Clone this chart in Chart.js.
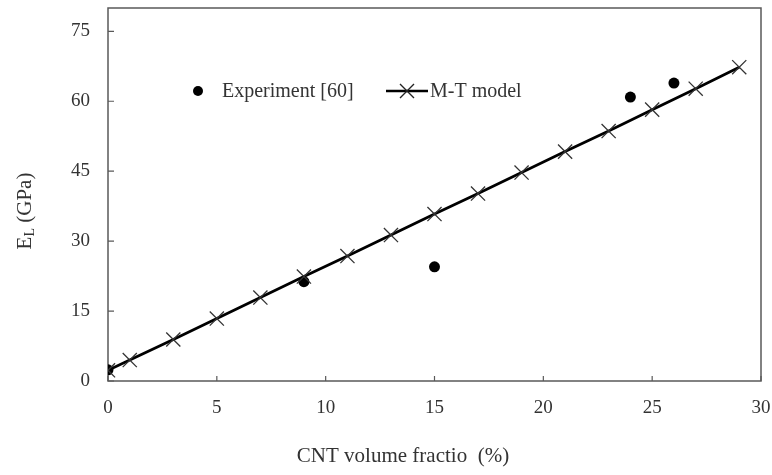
<!DOCTYPE html>
<html>
<head>
<meta charset="utf-8">
<script src="https://cdn.jsdelivr.net/npm/chart.js@4"></script>
<style>
  html, body { margin: 0; padding: 0; background: #fff; }
  #wrap { width: 772px; height: 475px; }
</style>
</head>
<body>
<div id="wrap"><canvas id="modulusChart" width="772" height="475"></canvas></div>
<script>
// Longitudinal modulus vs CNT volume fraction
const expFraction = [0, 9, 15, 24, 26];
const expModulus = [2.4, 21.3, 24.5, 60.9, 63.9];
const mtFraction = [0, 1, 3, 5, 7, 9, 11, 13, 15, 17, 19, 21, 23, 25, 27, 29];
const mtModulus = [2.3, 4.5, 8.9, 13.4, 17.9, 22.4, 26.8, 31.3, 35.8, 40.2, 44.7, 49.2, 53.6, 58.2, 62.7, 67.3];
const xTicks = [0, 5, 10, 15, 20, 25, 30];
const yTicks = [0, 15, 30, 45, 60, 75];

const FONT = '"Liberation Serif", "Times New Roman", serif';
const FRAME = '#595959';
const TEXT = '#333333';

// frame, inward tick marks, axis titles and the legend
const decorations = {
  id: 'decorations',
  beforeDatasetsDraw(chart) {
    const { ctx, chartArea: a, scales } = chart;
    ctx.save();
    ctx.strokeStyle = FRAME;
    ctx.lineWidth = 1.5;
    ctx.strokeRect(a.left, a.top, a.right - a.left, a.bottom - a.top);
    ctx.lineWidth = 1.2;
    ctx.beginPath();
    scales.x.ticks.forEach(t => {
      const px = scales.x.getPixelForValue(t.value);
      ctx.moveTo(px, a.bottom);
      ctx.lineTo(px, a.bottom - 5);
    });
    scales.y.ticks.forEach(t => {
      const py = scales.y.getPixelForValue(t.value);
      ctx.moveTo(a.left, py);
      ctx.lineTo(a.left + 6, py);
    });
    ctx.stroke();
    ctx.restore();
  },
  afterDraw(chart) {
    const { ctx } = chart;
    ctx.save();
    ctx.fillStyle = TEXT;
    ctx.textBaseline = 'middle';

    // x title
    ctx.font = '21px ' + FONT;
    ctx.textAlign = 'center';
    ctx.fillText('CNT volume fractio  (%)', 403, 456);

    // y title with subscript
    ctx.translate(25, 211);
    ctx.rotate(-Math.PI / 2);
    ctx.textAlign = 'left';
    ctx.font = '21px ' + FONT;
    const w1 = ctx.measureText('E').width;
    ctx.font = '14px ' + FONT;
    const w2 = ctx.measureText('L').width;
    ctx.font = '21px ' + FONT;
    const w3 = ctx.measureText(' (GPa)').width;
    let x0 = -(w1 + w2 + w3) / 2;
    ctx.fillText('E', x0, 0);
    ctx.font = '14px ' + FONT;
    ctx.fillText('L', x0 + w1, 5);
    ctx.font = '21px ' + FONT;
    ctx.fillText(' (GPa)', x0 + w1 + w2, 0);
    ctx.setTransform(1, 0, 0, 1, 0, 0);

    // legend
    const ds = chart.data.datasets;
    const ly = 91;
    ctx.font = '20px ' + FONT;
    ctx.textAlign = 'left';
    ctx.fillStyle = '#000';
    ctx.beginPath();
    ctx.arc(198, ly, 5, 0, Math.PI * 2);
    ctx.fill();
    ctx.fillStyle = TEXT;
    ctx.fillText(ds[0].label, 222, ly + 1);

    ctx.strokeStyle = '#000';
    ctx.lineWidth = 2.5;
    ctx.beginPath();
    ctx.moveTo(386, ly);
    ctx.lineTo(428, ly);
    ctx.stroke();
    ctx.lineWidth = 1.4;
    ctx.strokeStyle = '#222';
    ctx.beginPath();
    ctx.moveTo(400, ly - 7); ctx.lineTo(414, ly + 7);
    ctx.moveTo(414, ly - 7); ctx.lineTo(400, ly + 7);
    ctx.stroke();
    ctx.fillText(ds[1].label, 430, ly + 1);
    ctx.restore();
  }
};

new Chart(document.getElementById('modulusChart'), {
  type: 'scatter',
  data: {
    datasets: [
      {
        label: 'Experiment [60]',
        data: expFraction.map((x, i) => ({ x: x, y: expModulus[i] })),
        pointStyle: 'circle',
        pointRadius: 5.5,
        backgroundColor: '#000',
        borderColor: '#000',
        borderWidth: 0,
        order: 2
      },
      {
        label: 'M-T model',
        data: mtFraction.map((x, i) => ({ x: x, y: mtModulus[i] })),
        showLine: true,
        borderColor: '#000',
        borderWidth: 2.8,
        pointStyle: 'crossRot',
        pointRadius: 10,
        pointBorderWidth: 1.3,
        pointBorderColor: '#333',
        order: 1
      }
    ]
  },
  options: {
    responsive: false,
    animation: false,
    layout: { autoPadding: false, padding: { left: 0, right: 11, top: 8, bottom: 0 } },
    plugins: {
      legend: { display: false },
      tooltip: { enabled: false }
    },
    scales: {
      x: {
        type: 'linear',
        min: 0,
        max: 30,
        afterBuildTicks: s => { s.ticks = xTicks.map(v => ({ value: v })); },
        afterFit: s => { s.height = 94; s.paddingLeft = 0; s.paddingRight = 0; },
        grid: { display: false, drawTicks: false },
        border: { display: false },
        ticks: { padding: 16, color: TEXT, font: { family: FONT, size: 19 }, maxRotation: 0 }
      },
      y: {
        type: 'linear',
        min: 0,
        max: 80,
        afterBuildTicks: s => { s.ticks = yTicks.map(v => ({ value: v })); },
        afterFit: s => { s.width = 108; s.paddingTop = 0; s.paddingBottom = 0; },
        grid: { display: false, drawTicks: false },
        border: { display: false },
        ticks: { padding: 18, color: TEXT, font: { family: FONT, size: 19 } }
      }
    }
  },
  plugins: [decorations]
});
</script>
</body>
</html>
